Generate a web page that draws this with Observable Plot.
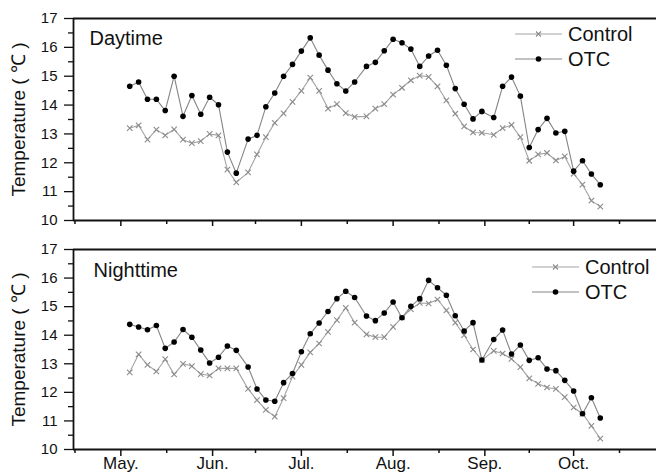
<!DOCTYPE html>
<html><head><meta charset="utf-8">
<script src="https://cdn.jsdelivr.net/npm/d3@7"></script>
<script src="https://cdn.jsdelivr.net/npm/@observablehq/plot@0.6"></script>
<style>
body{margin:0;background:#fff;}
#chart{position:relative;width:656px;height:473px;overflow:hidden;font-family:"Liberation Sans",Arial,sans-serif;background:#fff;}
#chart svg{display:block;}
.legend{position:absolute;font-size:20px;color:#111;line-height:1;}
.legend .row{display:flex;align-items:center;height:24.5px;white-space:nowrap;}
.legend .row span{margin-left:6px;}
</style></head>
<body><div id="chart"></div>
<script>
// x positions: days after May 1
const days = [3,6,9,12,15,18,21,24,27,30,33,36,39,43,46,49,52,55,58,61,64,67,70,73,76,79,83,86,89,92,95,98,101,104,107,110,113,116,119,122,126,129,132,135,138,141,144,147,150,153,156,159,162];
const monthTicks = [0,31,61,92,123,153];
const monthLabels = ["May.","Jun.","Jul.","Aug.","Sep.","Oct."];
const halfMonthTicks = [-15.5,15.5,45.5,76.5,107.5,138,168.5];
const yMajor = [10,11,12,13,14,15,16,17];
const yMinor = [10.5,11.5,12.5,13.5,14.5,15.5,16.5];
const seriesNames = ["Control","OTC"];
const panelLabels = ["Daytime","Nighttime"];
const yTitle = "Temperature ( \u2103 )";

const dayControl = [13.20,13.30,12.80,13.15,12.95,13.16,12.80,12.68,12.75,13.00,
  12.95,11.76,11.32,11.67,12.29,12.89,13.38,13.71,14.11,14.49,
  14.95,14.49,13.88,14.03,13.72,13.59,13.61,13.88,14.03,14.36,
  14.60,14.86,15.02,14.98,14.65,14.16,13.70,13.26,13.05,13.04,
  12.97,13.20,13.31,12.89,12.07,12.29,12.34,12.08,12.22,11.62,
  11.24,10.69,10.48];
const dayOTC = [14.65,14.80,14.20,14.20,13.81,15.00,13.61,14.33,13.68,14.27,
  14.01,12.37,11.64,12.82,12.95,13.94,14.42,15.00,15.41,15.87,
  16.33,15.73,15.21,14.74,14.49,14.80,15.34,15.48,15.88,16.28,
  16.16,15.94,15.34,15.70,15.90,15.38,14.57,14.03,13.52,13.78,
  13.57,14.65,14.97,14.31,12.53,13.15,13.54,13.03,13.09,11.71,
  12.07,11.61,11.24];
const nightControl = [12.70,13.33,12.96,12.73,13.16,12.63,13.00,12.92,12.64,12.59,
  12.84,12.84,12.84,12.12,11.73,11.39,11.15,11.80,12.55,12.96,
  13.40,13.71,14.12,14.53,14.96,14.44,14.03,13.93,13.93,14.29,
  14.62,14.91,15.13,15.11,15.25,14.87,14.44,14.00,13.50,13.13,
  13.45,13.36,13.17,12.88,12.49,12.30,12.17,12.12,11.83,11.47,
  11.25,10.83,10.38];
const nightOTC = [14.38,14.29,14.19,14.34,13.54,13.76,14.20,13.93,13.48,13.03,
  13.23,13.62,13.47,12.89,12.12,11.73,11.69,12.34,12.66,13.42,
  14.05,14.43,14.83,15.28,15.54,15.32,14.67,14.51,14.78,15.16,
  14.61,15.01,15.28,15.92,15.66,15.40,14.68,14.15,14.44,13.13,
  13.85,14.18,13.34,13.66,13.12,13.21,12.82,12.76,12.42,12.05,
  11.25,11.81,11.10];

const ink = "#111";
const controlLine = "#a3a3a3", controlMark = "#8c8c8c";
const otcLine = "#858585", otcMark = "#000";

function panel({control, otc, label, height, marginTop, marginBottom, showMonths, labelDx, labelDy}) {
  const ctl = days.map((d,i)=>({day:d, temp:control[i]}));
  const ot = days.map((d,i)=>({day:d, temp:otc[i]}));
  return Plot.plot({
    width:656, height, marginLeft:73, marginRight:0, marginTop, marginBottom,
    style:{fontFamily:'"Liberation Sans",Arial,sans-serif', color:ink, background:"transparent"},
    x:{domain:[-16,181]},
    y:{domain:[10,17]},
    marks:[
      Plot.axisY({ticks:yMajor, tickSize:9, tickPadding:7, fontSize:15, strokeWidth:1.3, tickFormat:d=>String(d), label:null}),
      Plot.axisY({ticks:yMinor, tickSize:5, strokeWidth:1.3, tickFormat:()=>"", label:null}),
      Plot.axisX({ticks:monthTicks, tickSize:showMonths?7:6, tickPadding:0, strokeWidth:1.5, fontSize:17,
        tickFormat: d => showMonths ? monthLabels[monthTicks.indexOf(d)] : "", label:null}),
      Plot.axisX({ticks:halfMonthTicks, tickSize:4, strokeWidth:1.5, tickFormat:()=>"", label:null}),
      Plot.ruleY([10], {stroke:ink, strokeWidth:1.8}),
      Plot.ruleY([17], {stroke:ink, strokeWidth:1.8}),
      Plot.ruleX([-16], {stroke:ink, strokeWidth:1.8}),
      Plot.line(ctl, {x:"day", y:"temp", stroke:controlLine, strokeWidth:1.1}),
      Plot.dot(ctl, {x:"day", y:"temp", symbol:"times", r:2.6, stroke:controlMark, strokeWidth:1.1}),
      Plot.line(ot, {x:"day", y:"temp", stroke:otcLine, strokeWidth:1.1}),
      Plot.dot(ot, {x:"day", y:"temp", r:2.8, fill:otcMark, stroke:"none"}),
      Plot.text([label], {frameAnchor:"top-left", dx:labelDx, dy:labelDy, fontSize:20, fill:ink, textAnchor:"start", lineAnchor:"top"}),
      Plot.text([yTitle], {frameAnchor:"left", rotate:-90, dx:-55, fontSize:19, fill:ink, textAnchor:"middle", lineAnchor:"middle"})
    ]
  });
}

const chart = document.getElementById("chart");
chart.append(panel({control:dayControl, otc:dayOTC, label:panelLabels[0], height:232, marginTop:18, marginBottom:12, showMonths:false, labelDx:16, labelDy:12}));
chart.append(panel({control:nightControl, otc:nightOTC, label:panelLabels[1], height:241, marginTop:17, marginBottom:24, showMonths:true, labelDx:20, labelDy:13}));

function legend(left, top) {
  const lg = d3.select(chart).append("div").attr("class","legend").style("left", left+"px").style("top", top+"px");
  seriesNames.forEach(name => {
    const row = lg.append("div").attr("class","row");
    const svg = row.append("svg").attr("width",47).attr("height",10);
    const isCtl = name === "Control";
    svg.append("line").attr("x1",0).attr("x2",47).attr("y1",5).attr("y2",5)
      .attr("stroke", isCtl ? controlLine : otcLine).attr("stroke-width",1.1);
    if (isCtl) {
      svg.append("path").attr("d","M21,2.5L26,7.5M21,7.5L26,2.5").attr("stroke",controlMark).attr("stroke-width",1.1);
    } else {
      svg.append("circle").attr("cx",23.5).attr("cy",5).attr("r",2.8).attr("fill",otcMark);
    }
    row.append("span").text(name);
  });
}
legend(515, 22);
legend(532, 255);
</script>
</body></html>
